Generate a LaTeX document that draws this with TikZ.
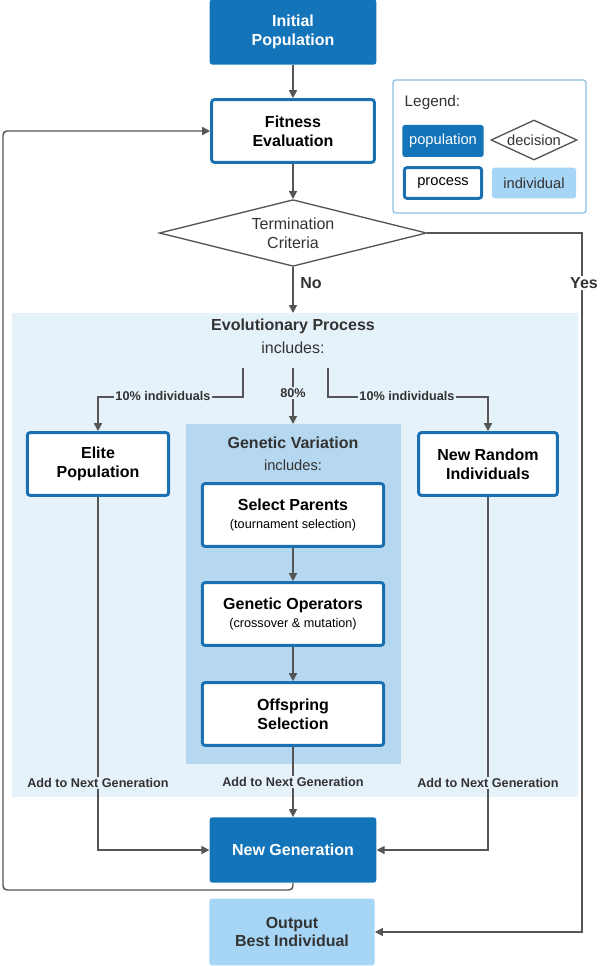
\documentclass[tikz,border=0pt]{standalone}
\usepackage{fontspec}
\setmainfont{Liberation Sans}
\usetikzlibrary{shapes.geometric,arrows.meta}
\definecolor{dblue}{HTML}{1474B9}
\definecolor{bblue}{HTML}{1A70B0}
\definecolor{lblue}{HTML}{A6D5F5}
\definecolor{region}{HTML}{E6F2FA}
\definecolor{gvreg}{HTML}{B5D7EF}
\definecolor{lgray}{HTML}{555555}
\begin{document}
\begin{tikzpicture}[x=0.75pt,y=-0.75pt,
  pop/.style={draw=none,fill=dblue,text=white,font=\bfseries\fontsize{12}{14}\selectfont,align=center,rounded corners=2pt},
  proc/.style={draw=bblue,line width=2.2pt,fill=white,font=\bfseries\fontsize{12}{14}\selectfont,align=center,rounded corners=2pt},
  ind/.style={fill=lblue,draw=none,text=black!80,font=\bfseries\fontsize{12}{14}\selectfont,align=center,rounded corners=2pt},
  dec/.style={diamond,draw=lgray,line width=1pt,fill=white,aspect=5.5,inner sep=1pt,align=center,font=\fontsize{12}{14}\selectfont,text=black!80},
  ar/.style={draw=lgray,line width=1.1pt,-{Triangle[length=6pt,width=6pt]}},
  ln/.style={draw=lgray,line width=1.1pt},
  lab/.style={font=\bfseries\fontsize{9.5}{11}\selectfont,text=black!80,inner sep=1pt},
  ttl/.style={font=\bfseries\fontsize{12}{14}\selectfont,text=black!80}]
\useasboundingbox (0,0) rectangle (600,966);
% regions
\fill[region] (12,313) rectangle (578,797);
\fill[gvreg] (186,424) rectangle (401,764);
% main nodes
\node[pop,minimum width=125pt,minimum height=49pt] (init) at (293,32) {Initial\\Population};
\node[proc,minimum width=122pt,minimum height=47pt] (fit) at (293,131) {Fitness\\Evaluation};
\node[dec,minimum width=138pt,minimum height=50pt] (term) at (293,233) {Termination\\Criteria};
\node[ttl] (evo) at (293,326) {Evolutionary Process};
\node[font=\fontsize{12}{14}\selectfont,text=black!80] (evoi) at (293,348) {includes:};
\node[proc,minimum width=106pt,minimum height=47pt] (elite) at (98,464) {Elite\\Population};
\node[proc,minimum width=104pt,minimum height=47pt] (rand) at (488,464) {New Random\\Individuals};
\node[ttl] (gv) at (293,443) {Genetic Variation};
\node[font=\fontsize{11}{13}\selectfont,text=black!80] (gvi) at (293,465) {includes:};
\node[proc,minimum width=136pt,minimum height=47pt,font=\fontsize{12}{14}\selectfont] (sel) at (293,515) {\textbf{Select Parents}\\[-1pt]{\fontsize{9.5}{11}\selectfont (tournament selection)}};
\node[proc,minimum width=136pt,minimum height=47pt,font=\fontsize{12}{14}\selectfont] (gop) at (293,614) {\textbf{Genetic Operators}\\[-1pt]{\fontsize{9.5}{11}\selectfont (crossover \& mutation)}};
\node[proc,minimum width=136pt,minimum height=47pt] (off) at (293,714) {Offspring\\Selection};
\node[pop,minimum width=125pt,minimum height=49pt] (newg) at (293,850) {New Generation};
\node[ind,minimum width=124pt,minimum height=50pt] (out) at (292,932) {Output\\Best Individual};
% legend
\draw[draw=lblue!80!bblue,line width=1pt,fill=white,rounded corners=2pt] (393,80) rectangle (586,213);
\node[anchor=west,font=\fontsize{11.5}{13}\selectfont,text=black!80] (leg) at (400,103) {Legend:};
\node[pop,minimum width=61pt,minimum height=24pt,font=\fontsize{11}{13}\selectfont] (lp) at (443,141) {population};
\node[dec,minimum width=62pt,minimum height=30pt,aspect=2.2,font=\fontsize{11}{13}\selectfont] (ld) at (534,140) {decision};
\node[proc,minimum width=58pt,minimum height=23pt,font=\fontsize{11}{13}\selectfont] (lpr) at (443,183) {process};
\node[ind,minimum width=63pt,minimum height=23pt,font=\fontsize{11}{13}\selectfont] (li) at (534,183) {individual};
% connectors
\draw[ar] (init) -- (fit);
\draw[ar] (fit) -- (term);
\draw[ar] (term.south) -- (293,313);
\node[ttl] (no) at (311,283) {No};
\coordinate (yc) at (582,233);
\draw[ar] (term.east) -- (yc) |- (out.east);
\node[ttl,fill=white,inner sep=1pt] (yes) at (584,283) {Yes};
\coordinate (l1) at (243,368);
\coordinate (r1) at (328,368);
\draw[ar] (l1) -- (243,397) -| (elite.north);
\draw[ar] (r1) -- (328,397) -| (rand.north);
\draw[ar] (293,368) -- (293,424);
\node[lab,fill=region] (l10) at (163,396) {10\% individuals};
\node[lab,fill=region] (r10) at (407,396) {10\% individuals};
\node[lab,fill=region] (c80) at (293,393) {80\%};
\draw[ar] (sel) -- (gop);
\draw[ar] (gop) -- (off);
\draw[ar] (off.south) -- (newg.north);
\draw[ar] (elite.south) |- (newg.west);
\draw[ar] (rand.south) |- (newg.east);
\node[lab,fill=region] (a1) at (98,783) {Add to Next Generation};
\node[lab,fill=region] (a2) at (293,782) {Add to Next Generation};
\node[lab,fill=region] (a3) at (488,783) {Add to Next Generation};
\draw[ar,rounded corners=3pt] (newg.south) -- (293,890) -- (3,890) -- (3,131) -- (fit.west);
\end{tikzpicture}
\end{document}
